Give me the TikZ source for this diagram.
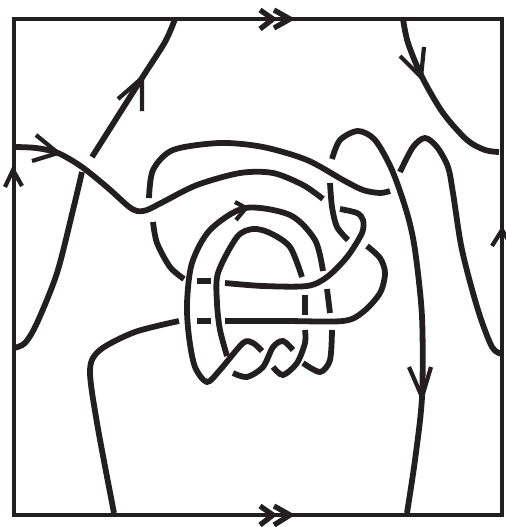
\documentclass[tikz,border=0pt]{standalone}
\usepackage{amsmath}
\usepackage{tikz}
\definecolor{ink}{HTML}{231F20}
\begin{document}
\begin{tikzpicture}[x=0.02cm,y=-0.02cm]
  \tikzstyle{frame}=[draw=ink,line width=2.2pt]
  \tikzstyle{strand}=[draw=ink,line width=3.3pt]
  \tikzstyle{barb}=[draw=ink,line width=2.4pt,miter limit=20]
  \useasboundingbox (0,0) rectangle (505,527);
  \draw[frame] (14,19) rectangle (502,515);
  % strands from the edges
  \draw[strand] plot[smooth] coordinates {(14,147) (36,148) (58,153) (82,167) (108,188) (128,206) (137,211) (147,210) (163,202) (197,185) (240,173) (273,173) (303,185) (323,199)};
  \draw[strand] plot[smooth] coordinates {(175,19) (165,42) (142,78) (92,157)};
  \draw[strand] plot[smooth] coordinates {(82,172) (73,210) (57,273) (37,323) (25,343) (14,348)};
  \draw[strand] plot[smooth] coordinates {(403,19) (408,43) (422,77) (443,113) (467,140) (485,150) (499,152)};
  \draw[strand] plot[smooth] coordinates {(332,159) (340,140) (358,131) (375,140) (392,170) (407,213) (415,250) (422,317) (422,397) (415,460) (407,513)};
  \draw[strand] plot[smooth] coordinates {(400,172) (413,147) (425,138) (437,147) (448,167) (453,193) (462,250) (478,310) (492,347) (502,354)};
  \draw[strand] plot[smooth] coordinates {(114,513) (97,423) (90,370) (100,350) (135,332) (179,321)};
  % upper loop
  \draw[strand] plot[smooth] coordinates {(149,198) (153,170) (173,150) (220,143) (263,147) (307,160) (343,180) (363,190) (380,193) (390,191)};
  \draw[strand] plot[smooth] coordinates {(153,222) (157,243) (170,267) (184,279)};
  \draw[strand] plot[smooth] coordinates {(330,183) (332,207) (337,227) (348,240)};
  % horizontal strands
  \draw[strand] (197,281) -- (211,281);
  \draw[strand] plot[smooth] coordinates {(225,283) (263,286) (307,286) (327,277) (347,257) (362,233) (363,220) (357,213) (340,209)};
  \draw[strand] (197,321) -- (211,321);
  \draw[strand] plot[smooth] coordinates {(225,321) (285,321) (343,321) (363,312) (380,293) (385,273) (380,258) (367,246)};
  % arches and twists
  \draw[strand] plot[smooth] coordinates {(323,271) (315,240) (290,215) (245,208) (210,230) (192,263) (187,303) (189,337) (195,367) (207,382) (220,370) (243,343) (253,343) (262,351)};
  \draw[strand] (327,289) -- (330,313);
  \draw[strand] plot[smooth] coordinates {(302,277) (290,247) (270,233) (253,229) (237,237) (218,273) (217,303) (220,330) (227,356)};
  \draw[strand] (305,295) -- (305,315);
  \draw[strand] plot[smooth] coordinates {(233,373) (247,377) (263,367) (273,347) (283,341) (293,350)};
  \draw[strand] plot[smooth] coordinates {(273,367) (283,375) (297,363) (305,343) (305,330)};
  \draw[strand] plot[smooth] coordinates {(332,330) (330,360) (320,372) (303,363)};
  % arrowheads
  \draw[barb] (5,187) -- (13,170) -- (22,186);
  \draw[barb] (492,246) -- (502,230) -- (512,246);
  \draw[barb] (36,135) -- (58,153) -- (32,161);
  \draw[barb] (118,99) -- (142,78) -- (142,111);
  \draw[barb] (400,56) -- (421,77) -- (424,47);
  \draw[barb] (409,367) -- (422,397) -- (431,367);
  \draw[barb] (235,202) -- (246,208) -- (236,220);
  \draw[barb,line width=3pt] (260,10) -- (273,19) -- (260,29);
  \draw[barb,line width=3pt] (274,10) -- (290,19) -- (274,28);
  \draw[barb,line width=3pt] (260,506) -- (273,515) -- (260,525);
  \draw[barb,line width=3pt] (274,506) -- (290,515) -- (274,525);
\end{tikzpicture}
\end{document}
